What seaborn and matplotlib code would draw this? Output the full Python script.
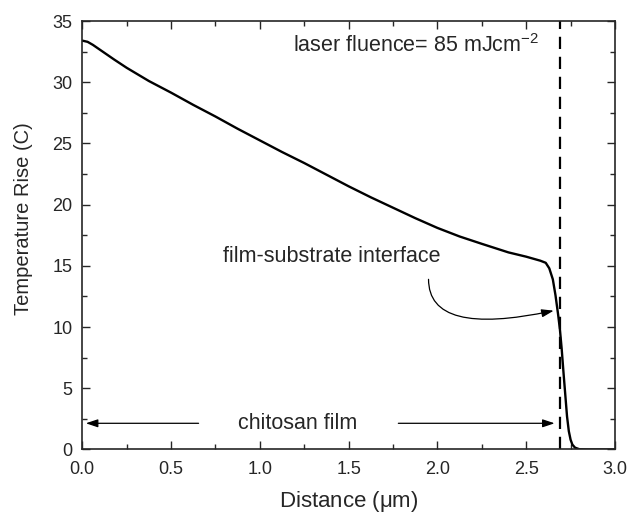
import numpy as np
import pandas as pd
import matplotlib
matplotlib.use("Agg")
import matplotlib.pyplot as plt
from matplotlib.ticker import MultipleLocator, FormatStrFormatter
import seaborn as sns

# temperature profile
distance = [0.0, 0.03, 0.06, 0.12, 0.18, 0.25, 0.375, 0.5, 0.625, 0.75, 0.875,
            1.0, 1.125, 1.25, 1.375, 1.5, 1.625, 1.75, 1.875, 2.0, 2.125,
            2.25, 2.325, 2.4, 2.5, 2.58, 2.61, 2.63, 2.65, 2.665, 2.68, 2.69,
            2.70, 2.71, 2.72, 2.73, 2.74, 2.75, 2.76, 2.775, 2.8, 2.85, 3.0]
temp_rise = [33.4, 33.3, 33.05, 32.45, 31.85, 31.18, 30.1, 29.15, 28.15, 27.2, 26.2,
             25.25, 24.3, 23.4, 22.45, 21.5, 20.6, 19.75, 18.9, 18.1, 17.4,
             16.8, 16.45, 16.1, 15.75, 15.42, 15.25, 14.8, 13.9, 12.6, 11.0, 9.8,
             8.2, 6.3, 4.5, 2.7, 1.5, 0.8, 0.4, 0.15, 0.02, 0.0, 0.0]
interface_x = 2.693

df = pd.DataFrame({"Distance": distance, "Temp": temp_rise})

sns.set_style("ticks")
plt.rcParams["font.family"] = ["Liberation Sans", "DejaVu Sans"]

fig = plt.figure(figsize=(6.29, 5.14), dpi=100)
ax = fig.add_axes([0.1308, 0.1255, 0.8469, 0.8336])

sns.lineplot(data=df, x="Distance", y="Temp", color="black", lw=1.7, ax=ax)
ax.axvline(interface_x, color="black", ls=(0, (5.5, 3.5)), lw=1.6)

ax.set_xlim(0, 3.0)
ax.set_ylim(0, 35)
ax.xaxis.set_major_locator(MultipleLocator(0.5))
ax.xaxis.set_minor_locator(MultipleLocator(0.25))
ax.yaxis.set_major_locator(MultipleLocator(5))
ax.yaxis.set_minor_locator(MultipleLocator(2.5))
ax.xaxis.set_major_formatter(FormatStrFormatter("%.1f"))
ax.tick_params(which="both", direction="in", top=True, right=True, labelsize=13)
ax.tick_params(which="major", length=6, width=1)
ax.tick_params(which="minor", length=3.5, width=1)
ax.tick_params(axis="x", pad=8)
ax.tick_params(axis="y", pad=7)
for s in ax.spines.values():
    s.set_linewidth(1.2)

ax.set_xlabel("Distance ($\\mathregular{\\mu}$m)", fontsize=16)
ax.set_ylabel("Temperature Rise (C)", fontsize=14.5)
ax.xaxis.set_label_coords(0.5, -0.092)
ax.yaxis.set_label_coords(-0.092, 0.538)

ax.text(1.185, 33.0, "laser fluence= 85 mJcm$^{\\mathregular{-2}}$", fontsize=15.5, va="center", ha="left")
ax.text(0.79, 15.75, "film-substrate interface", fontsize=15.5, va="center", ha="left")
ax.annotate("", xy=(2.655, 11.34), xytext=(1.95, 13.9),
            arrowprops=dict(arrowstyle="-|>,head_length=0.6,head_width=0.2", color="black", lw=0.9,
                            shrinkA=0, shrinkB=0,
                            connectionstyle="angle3,angleA=90,angleB=12", mutation_scale=12))

ax.text(1.215, 2.1, "chitosan film", fontsize=15.5, va="center", ha="center")
ax.annotate("", xy=(0.02, 2.14), xytext=(0.655, 2.14),
            arrowprops=dict(arrowstyle="-|>,head_length=0.6,head_width=0.2", color="black", lw=0.9,
                            shrinkA=0, shrinkB=0, mutation_scale=12))
ax.annotate("", xy=(2.66, 2.14), xytext=(1.78, 2.14),
            arrowprops=dict(arrowstyle="-|>,head_length=0.6,head_width=0.2", color="black", lw=0.9,
                            shrinkA=0, shrinkB=0, mutation_scale=12))

fig.savefig("out.png", dpi=100)
